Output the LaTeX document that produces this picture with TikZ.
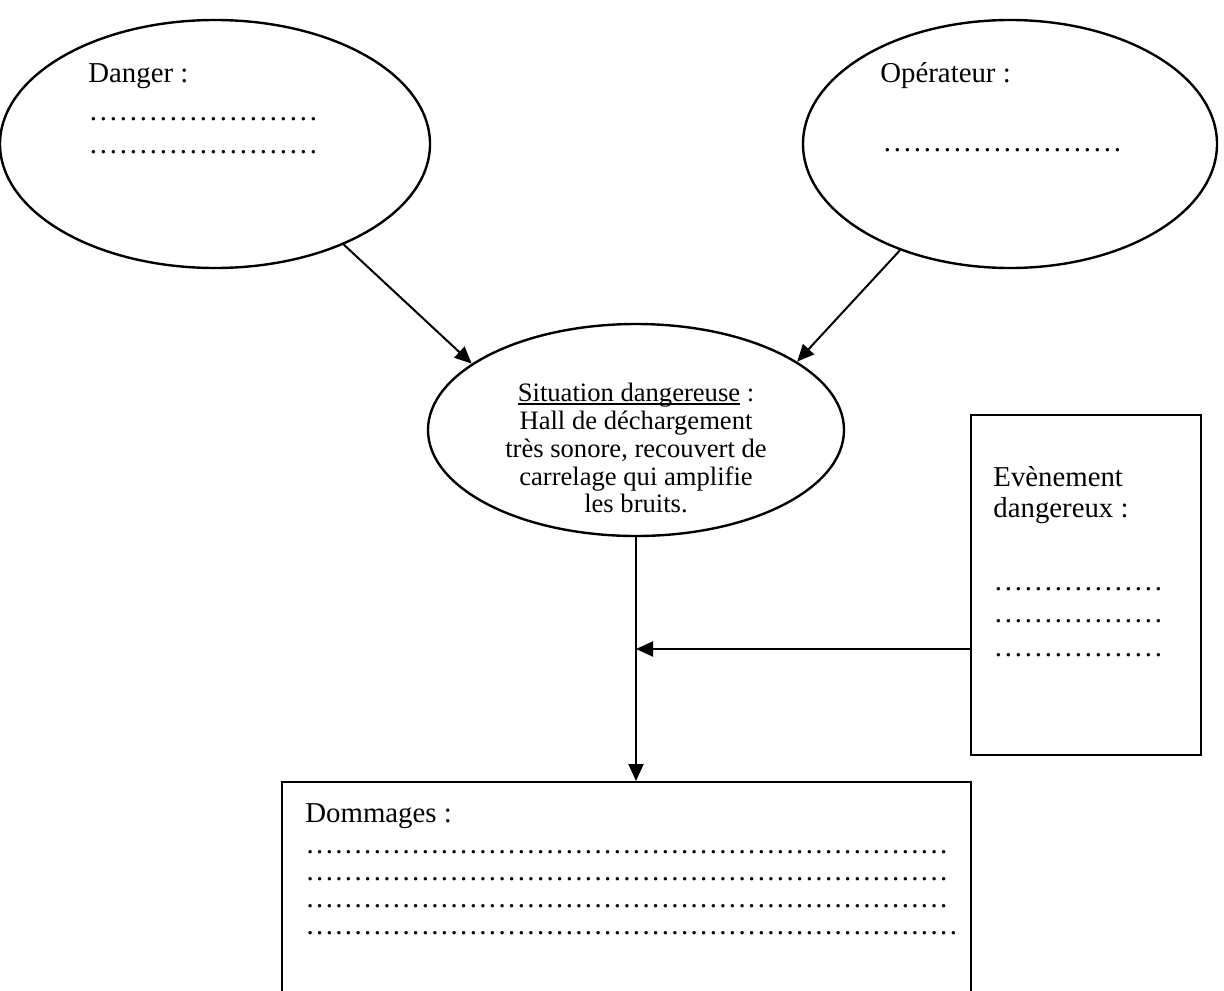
\documentclass[tikz,border=0pt]{standalone}
\usepackage{fontspec}
\setmainfont{Liberation Serif}
\usetikzlibrary{shapes.geometric,arrows.meta}
\newcommand\dotrow[2]{\hbox to #1{\leaders\hbox to #2{\hss.\hss}\hfill}}
\newcommand\wordul[1]{\setbox0=\hbox{#1}\rlap{\rule[-1.8pt]{\wd0}{0.7pt}}\box0\relax}
\begin{document}
\begin{tikzpicture}[x=0.5pt,y=-0.5pt,
  oval/.style={draw=black,ellipse,line width=1.2pt,inner sep=0pt},
  boxshape/.style={draw=black,rectangle,line width=1pt,inner sep=0pt},
  lbl/.style={anchor=base west,inner sep=0pt,font=\fontsize{14.4}{16}\selectfont},
  clbl/.style={anchor=base,inner sep=0pt,font=\fontsize{13.3}{15}\selectfont},
  conn/.style={line width=1pt,-{Triangle[length=8.5pt,width=7.5pt]}}]
\useasboundingbox (0,0) rectangle (1224,990);
% shapes
\node[oval,minimum width=215pt,minimum height=124pt] (danger) at (215,144) {};
\node[oval,minimum width=207pt,minimum height=124pt] (oper) at (1010,144) {};
\node[oval,minimum width=208pt,minimum height=106pt] (sit) at (636,430) {};
\node[boxshape,minimum width=115pt,minimum height=170pt] (evt) at (1086,585) {};
\node[boxshape,minimum width=344.5pt,minimum height=114pt] (dom) at (626.5,896) {};
% Danger
\node[lbl] (tdanger) at (88,83) {Danger :};
\node[lbl] (ddanger1) at (88,120) {\dotrow{116pt}{5pt}};
\node[lbl] (ddanger2) at (88,153) {\dotrow{116pt}{5pt}};
% Operateur
\node[lbl] (toper) at (880,83) {Opérateur :};
\node[lbl] (doper) at (882,151) {\dotrow{121pt}{5pt}};
% Situation
\node[clbl] (ts1) at (636,401) {\wordul{Situation dangereuse} :};
\node[clbl] (ts2) at (636,429) {Hall de déchargement};
\node[clbl] (ts3) at (636,457) {très sonore, recouvert de};
\node[clbl] (ts4) at (636,485) {carrelage qui amplifie};
\node[clbl] (ts5) at (636,512) {les bruits.};
% Evenement
\node[lbl] (tevt1) at (993,486) {Evènement};
\node[lbl] (tevt2) at (993,517) {dangereux :};
\node[lbl] (devt1) at (993,590) {\dotrow{88pt}{5pt}};
\node[lbl] (devt2) at (993,622) {\dotrow{88pt}{5pt}};
\node[lbl] (devt3) at (993,656) {\dotrow{88pt}{5pt}};
% Dommages
\node[lbl] (tdom) at (305,822) {Dommages :};
\node[lbl] (ddom1) at (305,853) {\dotrow{323pt}{4.8pt}};
\node[lbl] (ddom2) at (305,880) {\dotrow{323pt}{4.8pt}};
\node[lbl] (ddom3) at (305,907) {\dotrow{323pt}{4.8pt}};
\node[lbl] (ddom4) at (305,934) {\dotrow{327pt}{4.8pt}};
% connectors
\coordinate (j) at (636,649);
\draw[conn] (danger.-38) -- (sit.158);
\draw[conn] (oper.224) -- (sit.23);
\draw[conn] (sit.south) -- (sit.south |- dom.north);
\draw[conn] (evt.west |- j) -- (j);
\end{tikzpicture}
\end{document}
